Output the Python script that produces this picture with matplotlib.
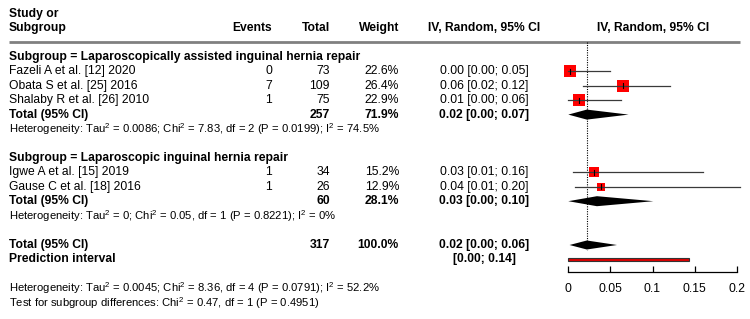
import matplotlib
matplotlib.use("Agg")
import matplotlib.pyplot as plt
import numpy as np

plt.rcParams['font.family'] = ['Liberation Sans', 'DejaVu Sans']
plt.rcParams['font.size'] = 8.7
plt.rcParams['mathtext.fontset'] = 'custom'
plt.rcParams['mathtext.rm'] = 'Liberation Sans'
plt.rcParams['mathtext.it'] = 'Liberation Sans:italic'
plt.rcParams['mathtext.bf'] = 'Liberation Sans:bold'

# ---------------- data ----------------
sub1_title = "Subgroup = Laparoscopically assisted inguinal hernia repair"
sub2_title = "Subgroup = Laparoscopic inguinal hernia repair"

studies1 = ["Fazeli A et al. [12] 2020", "Obata S et al. [25] 2016", "Shalaby R et al. [26] 2010"]
events1 = [0, 7, 1]
totals1 = [73, 109, 75]
weights1 = [22.6, 26.4, 22.9]
est1 = [0.0017, 0.0649, 0.0131]
lo1 = [0.0, 0.0178, 0.0]
hi1 = [0.0496, 0.1208, 0.0625]

studies2 = ["Igwe A et al. [15] 2019", "Gause C et al. [18] 2016"]
events2 = [1, 1]
totals2 = [34, 26]
weights2 = [15.2, 12.9]
est2 = [0.030, 0.0388]
lo2 = [0.006, 0.0075]
hi2 = [0.160, 0.2035]

sub_total_n = [257, 60]
sub_weight = [71.9, 28.1]
sub_est = [0.022, 0.034]
sub_lo = [0.0, 0.0]
sub_hi = [0.0716, 0.101]
sub_het = ["Heterogeneity: Tau$^2$ = 0.0086; Chi$^2$ = 7.83, df = 2 (P = 0.0199); I$^2$ = 74.5%",
           "Heterogeneity: Tau$^2$ = 0; Chi$^2$ = 0.05, df = 1 (P = 0.8221); I$^2$ = 0%"]

overall_n = 317
overall_weight = 100.0
overall_est = 0.022
overall_lo = 0.0015
overall_hi = 0.0578
pred_lo = 0.0
pred_hi = 0.143
overall_het = "Heterogeneity: Tau$^2$ = 0.0045; Chi$^2$ = 8.36, df = 4 (P = 0.0791); I$^2$ = 52.2%"
subgroup_test = "Test for subgroup differences: Chi$^2$ = 0.47, df = 1 (P = 0.4951)"

ref_line = 0.0225
xticks = [0, 0.05, 0.1, 0.15, 0.2]
xticklabels = ["0", "0.05", "0.1", "0.15", "0.2"]

# ---------------- layout (pixel rows) ----------------
W, H = 750, 319
fig = plt.figure(figsize=(W / 100, H / 100), dpi=100)
bg = fig.add_axes([0, 0, 1, 1])
bg.set_xlim(0, W)
bg.set_ylim(H, 0)
bg.axis('off')

x_lab, x_ev, x_tot, x_w, x_ci, x_hdr2 = 9, 272, 330, 399, 484, 653
ax_left, ax_right, ax_bottom = 568.3, 736.7, 272
small = 8.1

fx = fig.add_axes([ax_left / W, (H - ax_bottom) / H, (ax_right - ax_left) / W, ax_bottom / H])
fx.set_xlim(0, 0.2)
fx.set_ylim(ax_bottom, 0)
fx.patch.set_alpha(0)
for s in ['top', 'left', 'right']:
    fx.spines[s].set_visible(False)
fx.spines['bottom'].set_linewidth(0.9)
fx.set_yticks([])
fx.set_xticks(xticks)
fx.set_xticklabels(xticklabels, fontsize=8.7)
fx.tick_params(axis='x', direction='in', length=4.5, width=0.9, pad=8)

def fmt(e, l, h):
    return f"{e:.2f} [{l:.2f}; {h:.2f}]"

# header
bg.text(x_lab, 14, "Study or", fontweight='bold', va='center', ha='left')
bg.text(x_lab, 28, "Subgroup", fontweight='bold', va='center', ha='left')
bg.text(x_ev, 28, "Events", fontweight='bold', va='center', ha='right')
bg.text(x_tot, 28, "Total", fontweight='bold', va='center', ha='right')
bg.text(x_w, 28, "Weight", fontweight='bold', va='center', ha='right')
bg.text(x_ci, 28, "IV, Random, 95% CI", fontweight='bold', va='center', ha='center')
bg.text(x_hdr2, 28, "IV, Random, 95% CI", fontweight='bold', va='center', ha='center')
bg.plot([9, 740], [42, 42], color='#808080', lw=2.0, solid_capstyle='butt')

fx.plot([ref_line, ref_line], [42, 250], color='black', lw=0.8, ls=(0, (1, 1.2)), clip_on=False, zorder=1)

def study_rows(title, y_title, studies, events, totals, weights, est, lo, hi):
    bg.text(x_lab, y_title, title, fontweight='bold', va='center', ha='left')
    ys = []
    for i in range(len(studies)):
        y = y_title + 14.4 * (i + 1)
        ys.append(y)
        bg.text(x_lab, y, studies[i], va='center', ha='left')
        bg.text(x_ev, y, str(events[i]), va='center', ha='right')
        bg.text(x_tot, y, str(totals[i]), va='center', ha='right')
        bg.text(x_w, y, f"{weights[i]:.1f}%", va='center', ha='right')
        bg.text(x_ci, y, fmt(est[i], lo[i], hi[i]), va='center', ha='center')
        side_pt = 2.4 * np.sqrt(weights[i]) * 0.72
        fx.scatter([est[i]], [y], marker='s', s=side_pt ** 2, color='#ff0000',
                   linewidths=0, zorder=3, clip_on=False)
        fx.plot([lo[i], hi[i]], [y, y], color='#3a3a3a', lw=0.9, zorder=4, clip_on=False)
        fx.plot([est[i], est[i]], [y - 2.5, y + 2.5], color='black', lw=0.8, zorder=5, clip_on=False)
    return ys[-1]

def diamond(y, e, l, h, half=5):
    fx.fill([l, e, h, e], [y, y - half, y, y + half], color='black', lw=0, zorder=4, clip_on=False)

def total_row(y, n, w, e, l, h, half=5):
    bg.text(x_lab, y, "Total (95% CI)", fontweight='bold', va='center', ha='left')
    bg.text(x_tot, y, str(n), fontweight='bold', va='center', ha='right')
    bg.text(x_w, y, f"{w:.1f}%", fontweight='bold', va='center', ha='right')
    bg.text(x_ci, y, fmt(e, l, h), fontweight='bold', va='center', ha='center')
    diamond(y, e, l, h, half)

y_last = study_rows(sub1_title, 57, studies1, events1, totals1, weights1, est1, lo1, hi1)
total_row(y_last + 14.4, sub_total_n[0], sub_weight[0], sub_est[0], sub_lo[0], sub_hi[0])
bg.text(x_lab, y_last + 29.0, sub_het[0], va='center', ha='left', fontsize=small)

y_last = study_rows(sub2_title, 158, studies2, events2, totals2, weights2, est2, lo2, hi2)
total_row(y_last + 14.4, sub_total_n[1], sub_weight[1], sub_est[1], sub_lo[1], sub_hi[1])
bg.text(x_lab, y_last + 29.5, sub_het[1], va='center', ha='left', fontsize=small)

total_row(245, overall_n, overall_weight, overall_est, overall_lo, overall_hi, 4.5)
bg.text(x_lab, 259.3, "Prediction interval", fontweight='bold', va='center', ha='left')
bg.text(x_ci, 259.3, f"[{pred_lo:.2f}; {pred_hi:.2f}]", fontweight='bold', va='center', ha='center')
fx.barh([259.3], [pred_hi - pred_lo], left=[pred_lo], height=3.2, color='#e00000',
        edgecolor='#333333', linewidth=0.8, zorder=4, clip_on=False)

bg.text(x_lab, 288.3, overall_het, va='center', ha='left', fontsize=small)
bg.text(x_lab, 303, subgroup_test, va='center', ha='left', fontsize=small)

fig.savefig("out.png", dpi=100)
